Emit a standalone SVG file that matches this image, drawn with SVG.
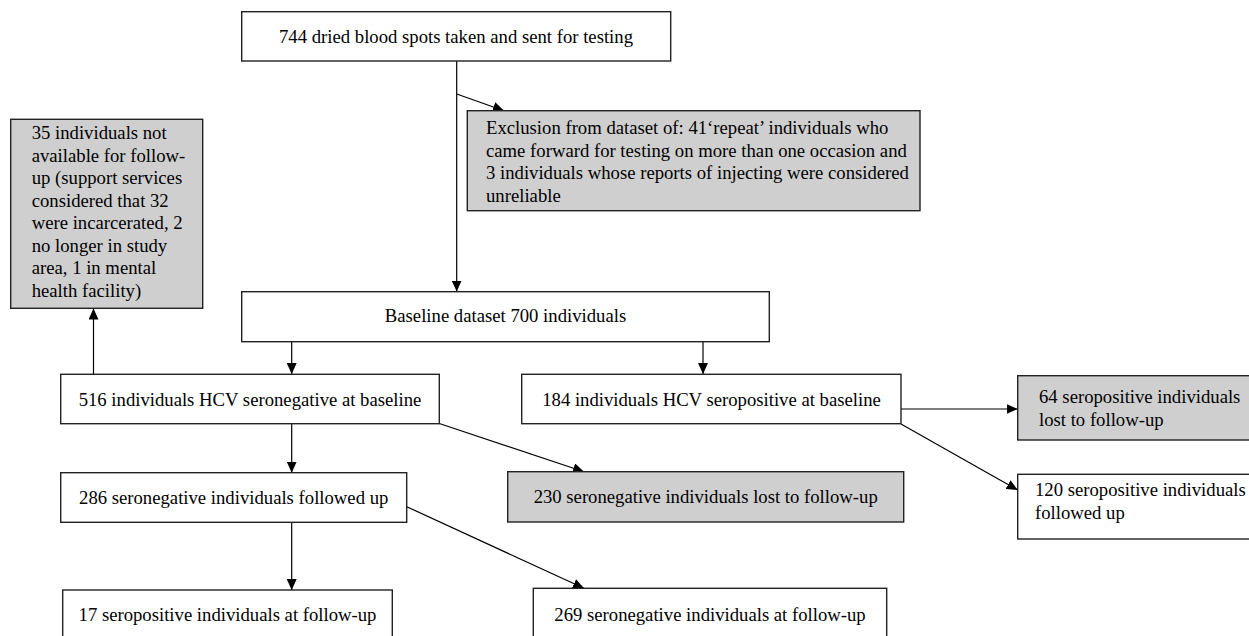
<svg xmlns="http://www.w3.org/2000/svg" width="1249" height="636" viewBox="0 0 1249 636">
<style>
.box{fill:#ffffff;stroke:#222222;stroke-width:1.4}
.grey{fill:#cfcfcf;stroke:#222222;stroke-width:1.4}
.t{font-family:"Liberation Serif","Times New Roman",serif;font-size:18.7px;fill:#000000}
.c{text-anchor:middle}
.conn{fill:none;stroke:#000000;stroke-width:1.2}
</style>
<defs>
<marker id="arr" markerUnits="userSpaceOnUse" markerWidth="11" markerHeight="10" refX="11" refY="5" orient="auto">
<path d="M0,0 L11,5 L0,10 z" fill="#000000"/>
</marker>
</defs>
<rect width="1249" height="636" fill="#ffffff"/>
<g id="connectors">
<path class="conn" d="M456.7,61 V291.5" marker-end="url(#arr)"/>
<path class="conn" d="M456.7,94 L504,110.7" marker-end="url(#arr)"/>
<path class="conn" d="M291.7,342 V374" marker-end="url(#arr)"/>
<path class="conn" d="M703,342 V374" marker-end="url(#arr)"/>
<path class="conn" d="M93.5,374 V308.5" marker-end="url(#arr)"/>
<path class="conn" d="M291.7,424 V472.7" marker-end="url(#arr)"/>
<path class="conn" d="M439.3,423.5 L584,471.7" marker-end="url(#arr)"/>
<path class="conn" d="M901,409 H1017.7" marker-end="url(#arr)"/>
<path class="conn" d="M901,424 L1017.7,490" marker-end="url(#arr)"/>
<path class="conn" d="M291.7,522.7 V590" marker-end="url(#arr)"/>
<path class="conn" d="M406.7,506.7 L584,588.3" marker-end="url(#arr)"/>
</g>
<g id="n744">
<rect class="box" x="241.7" y="11.7" width="429" height="49.3"/>
<text class="t c" x="456" y="43.3">744 dried blood spots taken and sent for testing</text>
</g>
<g id="exclusion">
<rect class="grey" x="467.3" y="110.7" width="452.7" height="100"/>
<text class="t" x="486" y="134.3">Exclusion from dataset of: 41‘repeat’ individuals who</text>
<text class="t" x="486" y="156.8">came forward for testing on more than one occasion and</text>
<text class="t" x="486" y="179.3">3 individuals whose reports of injecting were considered</text>
<text class="t" x="486" y="201.8">unreliable</text>
</g>
<g id="notavailable">
<rect class="grey" x="10.7" y="119.3" width="192" height="189"/>
<text class="t" x="31.7" y="139.3">35 individuals not</text>
<text class="t" x="31.7" y="161.8">available for follow-</text>
<text class="t" x="31.7" y="184.3">up (support services</text>
<text class="t" x="31.7" y="206.8">considered that 32</text>
<text class="t" x="31.7" y="229.3">were incarcerated, 2</text>
<text class="t" x="31.7" y="251.8">no longer in study</text>
<text class="t" x="31.7" y="274.3">area, 1 in mental</text>
<text class="t" x="31.7" y="296.8">health facility)</text>
</g>
<g id="baseline">
<rect class="box" x="241.7" y="291.7" width="527.6" height="50"/>
<text class="t c" x="505.5" y="321.7">Baseline dataset 700 individuals</text>
</g>
<g id="n516">
<rect class="box" x="60.7" y="374.3" width="378.6" height="49.4"/>
<text class="t c" x="250" y="406">516 individuals HCV seronegative at baseline</text>
</g>
<g id="n184">
<rect class="box" x="521.7" y="374.3" width="379.3" height="49.4"/>
<text class="t c" x="711.5" y="406">184 individuals HCV seropositive at baseline</text>
</g>
<g id="n64">
<rect class="grey" x="1017.7" y="375.7" width="245" height="64.3"/>
<text class="t" x="1039" y="403.3">64 seropositive individuals</text>
<text class="t" x="1039" y="425.8">lost to follow-up</text>
</g>
<g id="n120">
<rect class="box" x="1017.7" y="474.3" width="245" height="64.7"/>
<text class="t" x="1035" y="496">120 seropositive individuals</text>
<text class="t" x="1035" y="518.5">followed up</text>
</g>
<g id="n286">
<rect class="box" x="60.7" y="472.7" width="346" height="49.6"/>
<text class="t c" x="233.7" y="504.3">286 seronegative individuals followed up</text>
</g>
<g id="n230">
<rect class="grey" x="507.7" y="471.7" width="396" height="50.3"/>
<text class="t c" x="705.7" y="503">230 seronegative individuals lost to follow-up</text>
</g>
<g id="n17">
<rect class="box" x="62.7" y="590" width="329.6" height="60"/>
<text class="t c" x="227.5" y="621">17 seropositive individuals at follow-up</text>
</g>
<g id="n269">
<rect class="box" x="533.3" y="588.3" width="353.4" height="62"/>
<text class="t c" x="710" y="620.5">269 seronegative individuals at follow-up</text>
</g>
</svg>
